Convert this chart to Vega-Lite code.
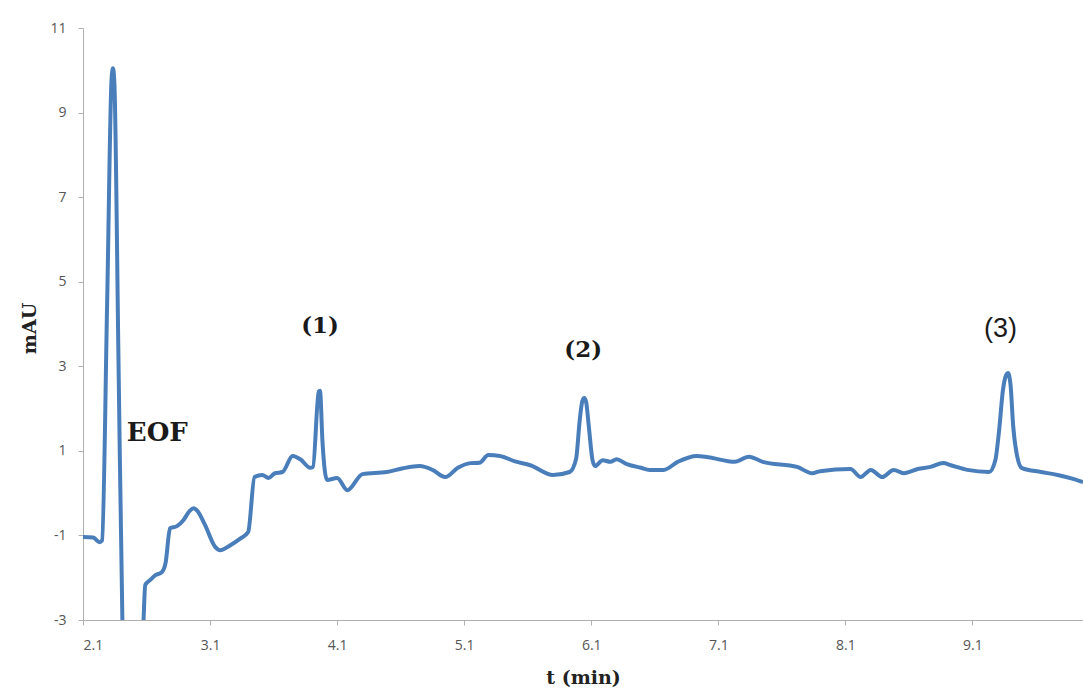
{
  "$schema": "https://vega.github.io/schema/vega-lite/v6.json",
  "width": 1000,
  "height": 592,
  "autosize": "none",
  "padding": {"left": 83, "top": 28, "right": 0, "bottom": 71},
  "background": "white",
  "config": {"view": {"stroke": null}},
  "datasets": {
    "trace": [
      {"t": 2.1, "mAU": -1.04},
      {"t": 2.18, "mAU": -1.05},
      {"t": 2.23, "mAU": -1.16},
      {"t": 2.25, "mAU": -1.12},
      {"t": 2.29, "mAU": 4.5},
      {"t": 2.325, "mAU": 9.8},
      {"t": 2.336, "mAU": 10.05},
      {"t": 2.347, "mAU": 9.7},
      {"t": 2.38, "mAU": 3.0},
      {"t": 2.41, "mAU": -3.0},
      {"t": 2.43, "mAU": -4.5},
      {"t": 2.55, "mAU": -4.5},
      {"t": 2.575, "mAU": -3.1},
      {"t": 2.59, "mAU": -2.17},
      {"t": 2.63, "mAU": -2.05},
      {"t": 2.67, "mAU": -1.94},
      {"t": 2.72, "mAU": -1.87},
      {"t": 2.75, "mAU": -1.65},
      {"t": 2.785, "mAU": -0.83},
      {"t": 2.84, "mAU": -0.78},
      {"t": 2.89, "mAU": -0.64},
      {"t": 2.94, "mAU": -0.42},
      {"t": 2.97, "mAU": -0.36},
      {"t": 3.0, "mAU": -0.42},
      {"t": 3.06, "mAU": -0.75},
      {"t": 3.14, "mAU": -1.27},
      {"t": 3.18, "mAU": -1.35},
      {"t": 3.26, "mAU": -1.23},
      {"t": 3.34, "mAU": -1.07},
      {"t": 3.4, "mAU": -0.92},
      {"t": 3.45, "mAU": 0.38},
      {"t": 3.51, "mAU": 0.43},
      {"t": 3.56, "mAU": 0.36},
      {"t": 3.61, "mAU": 0.47},
      {"t": 3.67, "mAU": 0.5},
      {"t": 3.75, "mAU": 0.88},
      {"t": 3.81, "mAU": 0.8},
      {"t": 3.89, "mAU": 0.6},
      {"t": 3.91, "mAU": 0.62},
      {"t": 3.955, "mAU": 2.4},
      {"t": 3.965, "mAU": 2.42},
      {"t": 3.985, "mAU": 1.2},
      {"t": 4.02, "mAU": 0.31},
      {"t": 4.1, "mAU": 0.36},
      {"t": 4.18, "mAU": 0.07},
      {"t": 4.3, "mAU": 0.45},
      {"t": 4.49, "mAU": 0.5},
      {"t": 4.62, "mAU": 0.59},
      {"t": 4.75, "mAU": 0.64},
      {"t": 4.85, "mAU": 0.55},
      {"t": 4.95, "mAU": 0.38},
      {"t": 5.05, "mAU": 0.6},
      {"t": 5.15, "mAU": 0.71},
      {"t": 5.22, "mAU": 0.72},
      {"t": 5.29, "mAU": 0.9},
      {"t": 5.38, "mAU": 0.88},
      {"t": 5.5, "mAU": 0.75},
      {"t": 5.62, "mAU": 0.66},
      {"t": 5.8, "mAU": 0.43},
      {"t": 5.93, "mAU": 0.5},
      {"t": 5.98, "mAU": 0.8},
      {"t": 6.01, "mAU": 1.75},
      {"t": 6.03, "mAU": 2.18},
      {"t": 6.045, "mAU": 2.25},
      {"t": 6.06, "mAU": 2.15},
      {"t": 6.08, "mAU": 1.6},
      {"t": 6.11, "mAU": 0.78},
      {"t": 6.13, "mAU": 0.64},
      {"t": 6.19, "mAU": 0.78},
      {"t": 6.25, "mAU": 0.74},
      {"t": 6.3, "mAU": 0.8},
      {"t": 6.37, "mAU": 0.7},
      {"t": 6.49, "mAU": 0.6},
      {"t": 6.56, "mAU": 0.55},
      {"t": 6.67, "mAU": 0.55},
      {"t": 6.78, "mAU": 0.74},
      {"t": 6.93, "mAU": 0.88},
      {"t": 7.02, "mAU": 0.85},
      {"t": 7.23, "mAU": 0.74},
      {"t": 7.34, "mAU": 0.86},
      {"t": 7.45, "mAU": 0.74},
      {"t": 7.72, "mAU": 0.62},
      {"t": 7.84, "mAU": 0.47},
      {"t": 7.9, "mAU": 0.52},
      {"t": 8.14, "mAU": 0.57},
      {"t": 8.22, "mAU": 0.38},
      {"t": 8.3, "mAU": 0.55},
      {"t": 8.39, "mAU": 0.38},
      {"t": 8.48, "mAU": 0.55},
      {"t": 8.56, "mAU": 0.47},
      {"t": 8.67, "mAU": 0.57},
      {"t": 8.77, "mAU": 0.62},
      {"t": 8.87, "mAU": 0.71},
      {"t": 8.93, "mAU": 0.66},
      {"t": 9.06, "mAU": 0.55},
      {"t": 9.23, "mAU": 0.5},
      {"t": 9.28, "mAU": 0.78},
      {"t": 9.31, "mAU": 1.49},
      {"t": 9.34, "mAU": 2.44},
      {"t": 9.365, "mAU": 2.79},
      {"t": 9.38, "mAU": 2.84},
      {"t": 9.4, "mAU": 2.55},
      {"t": 9.42, "mAU": 1.61},
      {"t": 9.45, "mAU": 0.9},
      {"t": 9.49, "mAU": 0.59},
      {"t": 9.64, "mAU": 0.5},
      {"t": 9.77, "mAU": 0.43},
      {"t": 9.9, "mAU": 0.33},
      {"t": 9.97, "mAU": 0.26}
    ],
    "eofLabel": [
      {"t": 2.685, "mAU": 1.42, "label": "EOF"}
    ],
    "peakLabels": [
      {"t": 3.966, "mAU": 3.95, "label": "(1)"},
      {"t": 6.037, "mAU": 3.38, "label": "(2)"}
    ],
    "sansLabels": [
      {"t": 9.32, "mAU": 3.88, "label": "(3)"}
    ]
  },
  "layer": [
    {
      "data": {"name": "trace"},
      "mark": {"type": "line", "color": "#4a7ebb", "strokeWidth": 4, "clip": true, "strokeJoin": "round", "interpolate": "monotone"},
      "encoding": {
        "x": {
          "field": "t", "type": "quantitative",
          "scale": {"domain": [2.1, 9.97], "nice": false, "zero": false},
          "axis": {
            "title": "t (min)",
            "values": [2.1, 3.1, 4.1, 5.1, 6.1, 7.1, 8.1, 9.1],
            "format": ".1f",
            "grid": false,
            "domainColor": "#b0b0b0",
            "tickColor": "#b0b0b0",
            "tickSize": 5,
            "labelFont": "Open Sans",
            "labelFontSize": 14,
            "labelColor": "#555555",
            "labelPadding": 13,
            "titleFont": "DejaVu Serif",
            "titleFontWeight": "bold",
            "titleFontSize": 19,
            "titleColor": "#222222",
            "titleY": 48
          }
        },
        "y": {
          "field": "mAU", "type": "quantitative",
          "scale": {"domain": [-3, 11], "nice": false},
          "axis": {
            "title": "mAU",
            "values": [-3, -1, 1, 3, 5, 7, 9, 11],
            "labelExpr": "'' + datum.value",
            "grid": false,
            "domainColor": "#b0b0b0",
            "tickColor": "#b0b0b0",
            "tickSize": 5,
            "labelFont": "Open Sans",
            "labelFontSize": 14,
            "labelColor": "#555555",
            "labelPadding": 12,
            "titleFont": "DejaVu Serif",
            "titleFontWeight": "bold",
            "titleFontSize": 19,
            "titleColor": "#222222",
            "titleX": -44,
            "titleY": 300
          }
        }
      }
    },
    {
      "data": {"name": "eofLabel"},
      "mark": {"type": "text", "font": "DejaVu Serif", "fontWeight": "bold", "fontSize": 26, "color": "#1a1a1a", "align": "center", "baseline": "middle"},
      "encoding": {
        "x": {"field": "t", "type": "quantitative"},
        "y": {"field": "mAU", "type": "quantitative"},
        "text": {"field": "label"}
      }
    },
    {
      "data": {"name": "peakLabels"},
      "mark": {"type": "text", "font": "DejaVu Serif", "fontWeight": "bold", "fontSize": 23, "color": "#1a1a1a", "align": "center", "baseline": "middle"},
      "encoding": {
        "x": {"field": "t", "type": "quantitative"},
        "y": {"field": "mAU", "type": "quantitative"},
        "text": {"field": "label"}
      }
    },
    {
      "data": {"name": "sansLabels"},
      "mark": {"type": "text", "font": "Liberation Sans", "fontSize": 27, "color": "#1a1a1a", "align": "center", "baseline": "middle"},
      "encoding": {
        "x": {"field": "t", "type": "quantitative"},
        "y": {"field": "mAU", "type": "quantitative"},
        "text": {"field": "label"}
      }
    }
  ]
}
